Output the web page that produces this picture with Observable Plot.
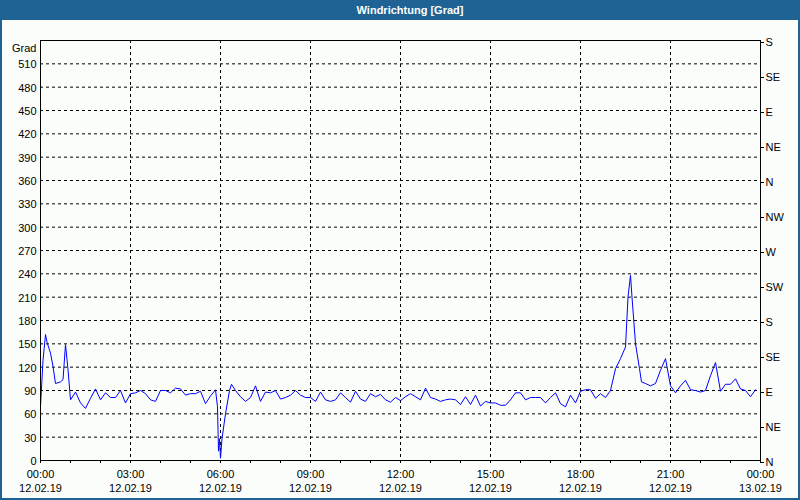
<!DOCTYPE html>
<html>
<head>
<meta charset="utf-8">
<script src="https://cdn.jsdelivr.net/npm/d3@7"></script>
<script src="https://cdn.jsdelivr.net/npm/@observablehq/plot@0.6"></script>
<style>
  html, body { margin: 0; padding: 0; background: #fbfdfb; }
  #wrap { position: relative; width: 800px; height: 500px; background: #fbfdfb; overflow: hidden; }
  #title { height: 20px; background: #1e6394; color: #fff; font: bold 11px "Liberation Sans", sans-serif; line-height: 20px; text-align: center; padding-left: 20px; box-sizing: border-box; }
  #border { position: absolute; left: 0; top: 0; width: 800px; height: 500px; box-sizing: border-box; border: 2px solid #1e6394; border-top: none; pointer-events: none; }
  svg { display: block; }
</style>
</head>
<body>
<div id="wrap">
  <div id="title">Windrichtung [Grad]</div>
  <div id="chart"></div>
  <div id="border"></div>
</div>
<script>
// time in minutes after 12.02.19 00:00
const minutes = [0,5,10,13,20,25,30,40,45,50,55,60,70,80,90,100,110,120,130,140,150,160,170,180,190,200,210,220,230,240,250,260,270,280,290,300,310,320,330,340,350,354,356,358,360,363,370,378,382,390,400,410,420,430,440,450,460,470,480,490,500,510,520,530,540,550,560,570,580,590,600,610,620,630,640,650,660,670,680,690,700,710,720,730,740,750,760,770,780,790,800,810,820,830,840,850,860,870,880,890,900,910,920,930,940,950,960,970,980,990,1000,1010,1020,1030,1040,1050,1060,1070,1080,1090,1100,1110,1120,1130,1140,1150,1160,1170,1175,1180,1183,1190,1198,1202,1210,1220,1230,1240,1250,1260,1270,1280,1290,1300,1310,1320,1330,1340,1350,1360,1370,1380,1390,1400,1410,1420,1430];
// wind direction in degrees
const degrees = [69,129,162,152,138,121,99,101,104,149,117,78,88,74,67,80,92,78,87,81,81,90,74,86,87,90,86,78,76,90,90,87,93,92,84,86,86,89,73,83,91,69,12,28,3,28,60,90,98,90,82,76,81,96,76,88,87,90,79,81,84,90,84,81,81,76,88,78,76,78,87,81,75,89,79,76,86,82,85,78,75,81,77,82,86,82,78,93,81,79,76,78,79,78,72,82,72,84,70,76,74,74,71,71,78,87,87,78,81,81,81,74,81,87,73,69,84,74,89,91,91,80,86,81,90,118,131,146,210,238,210,150,118,101,99,96,99,116,131,96,87,96,103,91,90,88,90,109,126,89,98,98,105,92,90,82,91];

const degreeTicks = d3.range(0, 540, 30);
const compassTicks = d3.range(0, 541, 45);
const compassLabels = ["N","NE","E","SE","S","SW","W","NW","N","NE","E","SE","S"];
const hourTicks = d3.range(0, 1441, 60);
const labelTicks = d3.range(0, 1441, 180);
const timeLabels = ["00:00","03:00","06:00","09:00","12:00","15:00","18:00","21:00","00:00"];
const dateLabels = ["12.02.19","12.02.19","12.02.19","12.02.19","12.02.19","12.02.19","12.02.19","12.02.19","13.02.19"];

const data = minutes.map((m, i) => ({m, v: degrees[i]}));

const chart = Plot.plot({
  width: 800,
  height: 480,
  marginLeft: 40,
  marginRight: 40,
  marginTop: 20,
  marginBottom: 40,
  style: {fontFamily: "Liberation Sans, sans-serif", fontSize: "11px", background: "#fbfdfb", color: "black", overflow: "visible"},
  x: {domain: [0, 1440]},
  y: {domain: [0, 540]},
  marks: [
    Plot.gridY(degreeTicks.filter(d => d > 0), {stroke: "black", strokeOpacity: 1, strokeDasharray: "3,3"}),
    Plot.gridX(labelTicks.filter(d => d > 0 && d < 1440), {stroke: "black", strokeOpacity: 1, strokeDasharray: "3,3"}),
    Plot.line(data, {x: "m", y: "v", stroke: "#0000ff", strokeWidth: 1}),
    Plot.frame({stroke: "black"}),
    Plot.axisY({anchor: "left", ticks: degreeTicks, tickSize: 0, tickPadding: 4, dy: 1, label: null, fill: "black"}),
    Plot.axisY({anchor: "right", ticks: compassTicks, tickSize: 3, tickPadding: 2, dy: 2, label: null, tickFormat: d => compassLabels[d / 45], fill: "black", stroke: "black"}),
    Plot.axisX({ticks: hourTicks, tickSize: 3, tickFormat: () => "", label: null, stroke: "black"}),
    Plot.text(labelTicks, {x: d => d, frameAnchor: "bottom", dy: 17, text: (d, i) => timeLabels[i], fill: "black"}),
    Plot.text(labelTicks, {x: d => d, frameAnchor: "bottom", dy: 31, text: (d, i) => dateLabels[i], fill: "black"}),
    Plot.text(["Grad"], {frameAnchor: "top-left", textAnchor: "end", dx: -4, dy: 4, fill: "black"})
  ]
});
document.getElementById("chart").appendChild(chart);
</script>
</body>
</html>
